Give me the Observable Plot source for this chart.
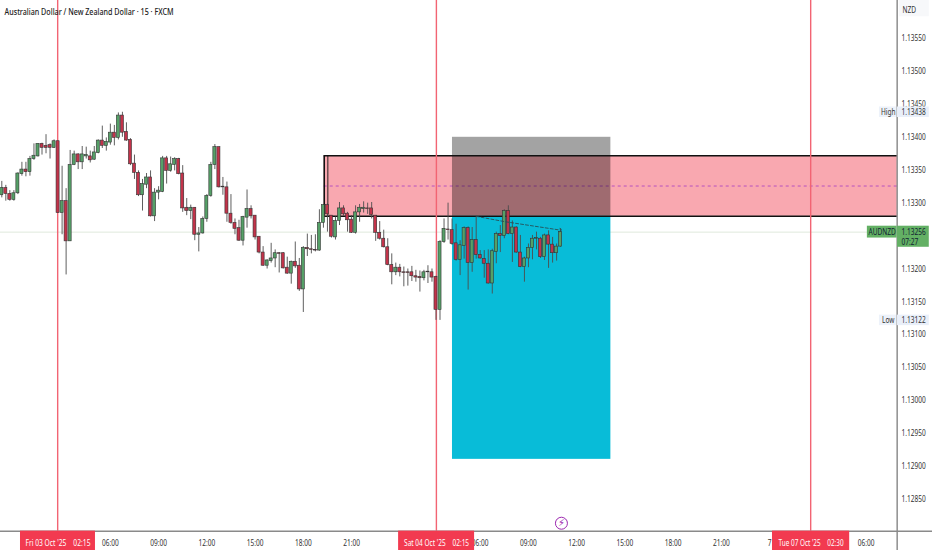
<!DOCTYPE html>
<html><head><meta charset="utf-8">
<script src="https://cdn.jsdelivr.net/npm/d3@7"></script>
<script src="https://cdn.jsdelivr.net/npm/@observablehq/plot@0.6"></script>
<style>html,body{margin:0;padding:0;background:#fff}svg{display:block}</style>
</head><body><div id="chart"></div>
<script>
// OHLC in 1e-5 price units, 15-minute bars
const highs = [113333,113327,113319,113319,113346,113362,113362,113371,113390,113390,113391,113404,113390,113396,113394,113356,113322,113380,113379,113375,113386,113385,113379,113386,113396,113417,113399,113420,113418,113437,113438,113422,113398,113373,113349,113336,113345,113349,113322,113325,113371,113371,113370,113369,113368,113357,113307,113297,113293,113263,113279,113313,113362,113389,113385,113339,113332,113313,113276,113274,113280,113320,113296,113281,113249,113234,113214,113239,113229,113225,113225,113218,113212,113241,113216,113234,113253,113251,113252,113290,113298,113299,113281,113279,113301,113296,113286,113281,113296,113298,113302,113300,113301,113281,113272,113259,113246,113223,113209,113207,113203,113200,113204,113198,113197,113198,113205,113200,113189,113243,113276,113300,113276,113268,113243,113264,113264,113263,113279,113228,113228,113229,113230,113256,113266,113290,113296,113273,113264,113251,113218,113238,113251,113256,113248,113253,113258,113248,113238,113261];
const bodyTops = [113323,113323,113314,113315,113345,113351,113351,113367,113372,113390,113390,113387,113388,113394,113394,113303,113303,113358,113374,113374,113374,113373,113371,113377,113395,113395,113393,113407,113407,113433,113433,113408,113396,113360,113346,113329,113339,113339,113316,113319,113368,113368,113359,113367,113367,113345,113293,113293,113293,113254,113276,113311,113358,113385,113385,113325,113324,113284,113270,113262,113279,113291,113291,113281,113249,113225,113213,113216,113224,113224,113224,113202,113211,113211,113205,113232,113232,113230,113229,113270,113297,113297,113281,113273,113292,113292,113284,113275,113286,113293,113293,113292,113292,113281,113255,113246,113233,113206,113202,113202,113195,113195,113195,113189,113188,113195,113196,113195,113188,113241,113261,113260,113259,113239,113236,113262,113262,113244,113244,113221,113215,113208,113227,113253,113253,113288,113288,113263,113263,113225,113216,113232,113246,113247,113246,113251,113251,113237,113234,113256];
const bodyBottoms = [113312,113314,113305,113305,113315,113344,113347,113347,113367,113371,113384,113384,113384,113384,113285,113285,113242,113242,113358,113362,113362,113371,113365,113366,113376,113387,113387,113392,113399,113399,113407,113395,113359,113346,113312,113312,113328,113280,113280,113316,113317,113349,113349,113358,113344,113292,113288,113288,113252,113252,113254,113276,113311,113358,113324,113324,113284,113270,113261,113243,113243,113278,113280,113248,113225,113205,113205,113212,113216,113223,113201,113193,113193,113204,113169,113169,113230,113229,113228,113228,113270,113283,113249,113248,113273,113283,113274,113255,113255,113286,113291,113291,113282,113255,113246,113233,113206,113195,113195,113195,113194,113194,113189,113187,113186,113186,113195,113187,113138,113138,113241,113259,113238,113214,113214,113235,113209,113209,113221,113216,113208,113178,113178,113226,113250,113250,113253,113253,113225,113203,113203,113216,113232,113246,113218,113218,113237,113224,113224,113234];
const lows = [113308,113303,113303,113303,113313,113341,113340,113341,113365,113370,113373,113375,113367,113383,113285,113252,113191,113242,113357,113351,113351,113367,113361,113365,113375,113383,113379,113388,113387,113396,113400,113394,113357,113336,113310,113288,113322,113279,113272,113305,113316,113329,113347,113349,113343,113286,113281,113275,113243,113226,113253,113271,113309,113351,113323,113312,113271,113268,113252,113242,113235,113262,113276,113244,113223,113204,113200,113209,113202,113194,113200,113192,113177,113201,113166,113134,113219,113223,113226,113227,113262,113256,113247,113244,113266,113280,113256,113254,113253,113271,113285,113283,113276,113242,113244,113232,113205,113176,113190,113188,113173,113174,113181,113180,113165,113182,113178,113180,113122,113122,113239,113244,113236,113212,113190,113215,113168,113195,113215,113215,113186,113177,113162,113208,113225,113246,113252,113210,113224,113202,113180,113202,113214,113229,113216,113213,113201,113209,113212,113233];
const upBars = [0,3,4,5,7,8,9,13,15,17,18,20,21,23,24,26,27,29,35,36,38,39,40,42,43,47,49,50,51,52,53,60,61,66,67,68,72,75,79,80,83,84,88,89,90,98,105,109,110,114,115,117,122,123,125,127,130,131,132,133,135,138,139];

const priceTicks = [1.1355,1.135,1.1345,1.134,1.1335,1.133,1.132,1.1315,1.131,1.1305,1.13,1.1295,1.129,1.1285];
const timeTicks = [[27,"06:00"],[39,"09:00"],[51,"12:00"],[63,"15:00"],[75,"18:00"],[87,"21:00"],[119,"06:00"],[131,"09:00"],[143,"12:00"],[155,"15:00"],[167,"18:00"],[179,"21:00"],[191,"7"],[215,"06:00"]];
const dateMarks = [[13.9,"Fri 03 Oct '25\u00a0\u00a0\u00a0\u00a002:15",4.65,23.3],[108.1,"Sat 04 Oct '25\u00a0\u00a0\u00a0\u00a002:15",98.7,117.6],[201.2,"Tue 07 Oct '25\u00a0\u00a0\u00a0\u00a002:30",191.7,210.9]];
const tags = [{t:"High", v:"1.13438", p:1.13438},{t:"Low", v:"1.13122", p:1.13122}];
const trend = [[118,1.1328],[125,1.13272],[139,1.13259]];

const ups = new Set(upBars);
const bars = highs.map((h,i)=>({i, high:h/1e5, top:bodyTops[i]/1e5, bottom:bodyBottoms[i]/1e5, low:lows[i]/1e5, up:ups.has(i)}));

const xMin = -0.323, xMax = 231.5, yMin = 1.127726, yMax = 1.136077;
const axisI = 222.7, baseP = 1.12802, bottomP = 1.12772;
const supply = {x1:80.2, x2:axisI, y1:1.13372, y2:1.1328, mid:1.13326, inner:81.1};
const position = {x1:112.1, x2:151.5, top:1.134, entry:1.1328, stop:1.12911};
const last = 1.13256;
const font = "'Noto Sans',sans-serif";
const red = "#f23a50", redLine = "#f26473";
const fs = 8.2;

const chart = Plot.plot({
  width:932, height:550, margin:0,
  style:{background:"#fff", fontFamily:font},
  x:{axis:null, type:"linear", domain:[xMin, xMax], range:[0,932]},
  y:{axis:null, type:"linear", domain:[yMin, yMax], range:[550,0]},
  marks:[
    Plot.ruleY([last],{x1:xMin,x2:axisI,stroke:"#dfe9dc",strokeWidth:1}),
    Plot.rect([supply],{x1:"x1",x2:"x2",y1:"y1",y2:"y2",fill:"#f9a8b0"}),
    Plot.ruleY([supply.mid],{x1:supply.x1,x2:axisI,stroke:"#a83bc4",strokeWidth:0.8,strokeDasharray:"3,3"}),
    Plot.rect([position],{x1:"x1",x2:"x2",y1:"top",y2:"entry",fill:"#000",fillOpacity:0.36}),
    Plot.rect([position],{x1:"x1",x2:"x2",y1:"entry",y2:"stop",fill:"#08bcd8"}),
    Plot.ruleY([supply.y1,supply.y2],{x1:supply.x1,x2:axisI,stroke:"#111",strokeWidth:1.6}),
    Plot.ruleX([supply.x1],{y1:supply.y1,y2:supply.y2,stroke:"#111",strokeWidth:1.6}),
    Plot.ruleX([supply.inner],{y1:supply.y1,y2:supply.y2,stroke:"#111",strokeWidth:0.9}),
    Plot.ruleX(dateMarks,{x:d=>d[0],y1:baseP,y2:yMax,stroke:redLine,strokeWidth:1.4}),
    Plot.ruleX(bars,{x:"i",y1:"low",y2:"high",stroke:"#4d4d4d",strokeWidth:0.9}),
    Plot.rect(bars,{x1:d=>d.i-0.38,x2:d=>d.i+0.38,y1:"bottom",y2:"top",fill:d=>d.up?"#55a067":"#c2334a",stroke:"#333",strokeWidth:0.6}),
    Plot.line(trend,{x:d=>d[0],y:d=>d[1],stroke:"#274f57",strokeWidth:0.9,strokeDasharray:"3,2",markerEnd:"arrow"}),
    Plot.ruleX([axisI],{stroke:"#555",strokeWidth:1}),
    Plot.ruleY([baseP],{stroke:"#8a8a8a",strokeWidth:1.5}),
    Plot.text(["Australian Dollar / New Zealand Dollar · 15 · FXCM"],{x:0.67,y:1.13591,text:d=>d,textAnchor:"start",fontSize:9.5,fill:"#222",fontWeight:500}),
    Plot.text(priceTicks,{x:()=>axisI+1.1,y:d=>d,text:d=>d.toFixed(5),textAnchor:"start",fontSize:fs,fill:"#333"}),
    Plot.rect([{}],{x1:axisI+0.6,x2:axisI+8,y1:1.13612,y2:1.13583,fill:"#f7f8fa"}),
    Plot.text(["NZD"],{x:axisI+3,y:1.13592,text:d=>d,fontSize:fs,textAnchor:"middle",fill:"#333"}),
    Plot.rect(tags,{x1:axisI-4.4,x2:axisI-0.1,y1:d=>d.p-0.00008,y2:d=>d.p+0.00008,fill:"#edf2fa"}),
    Plot.rect(tags,{x1:axisI+0.1,x2:axisI+8,y1:d=>d.p-0.00008,y2:d=>d.p+0.00008,fill:"#e9eff9"}),
    Plot.text(tags,{x:axisI-2.2,y:"p",text:"t",fontSize:fs,textAnchor:"middle",fill:"#333"}),
    Plot.text(tags,{x:axisI+1.1,y:"p",text:"v",fontSize:fs,textAnchor:"start",fill:"#333"}),
    Plot.rect([{}],{x1:axisI-7.4,x2:axisI,y1:1.13265,y2:1.13247,fill:"#63b064"}),
    Plot.rect([{}],{x1:axisI+0.1,x2:axisI+8,y1:1.13265,y2:1.13233,fill:"#63b064"}),
    Plot.text(["AUDNZD"],{x:axisI-3.7,y:last,text:d=>d,fontSize:fs,textAnchor:"middle",fill:"#123"}),
    Plot.text(["1.13256"],{x:axisI+1.1,y:last,text:d=>d,fontSize:fs,textAnchor:"start",fill:"#123"}),
    Plot.text(["07:27"],{x:axisI+1.1,y:1.13241,text:d=>d,fontSize:fs,textAnchor:"start",fill:"#123"}),
    Plot.text(timeTicks,{x:d=>d[0],y:bottomP+0.00011,text:d=>d[1],fontSize:fs,fill:"#333"}),
    Plot.rect(dateMarks,{x1:d=>d[2],x2:d=>d[3],y1:baseP,y2:bottomP,fill:red}),
    Plot.text(dateMarks,{x:d=>(d[2]+d[3])/2,y:bottomP+0.00011,text:d=>d[1],fontSize:fs,fill:"#fff"}),
    Plot.dot([[139.2,1.12814]],{x:d=>d[0],y:d=>d[1],r:6,stroke:"#9c27b0",strokeWidth:1,fill:"#fff"}),
    Plot.text(["⚡"],{x:139.2,y:1.12814,text:d=>d,fontSize:10,fill:"#9c27b0",fontFamily:"DejaVu Sans"})
  ]
});
document.getElementById("chart").append(chart);
// the reference type is narrow: condense the real text horizontally
chart.querySelectorAll("text").forEach(t=>{
  const s = t.textContent;
  if (s === "⚡") return;
  const w = t.getComputedTextLength();
  const target = s.includes("Oct") ? 65 : s.startsWith("Australian") ? 169 : w*0.8;
  t.setAttribute("textLength", target);
  t.setAttribute("lengthAdjust", "spacingAndGlyphs");
});
</script></body></html>
